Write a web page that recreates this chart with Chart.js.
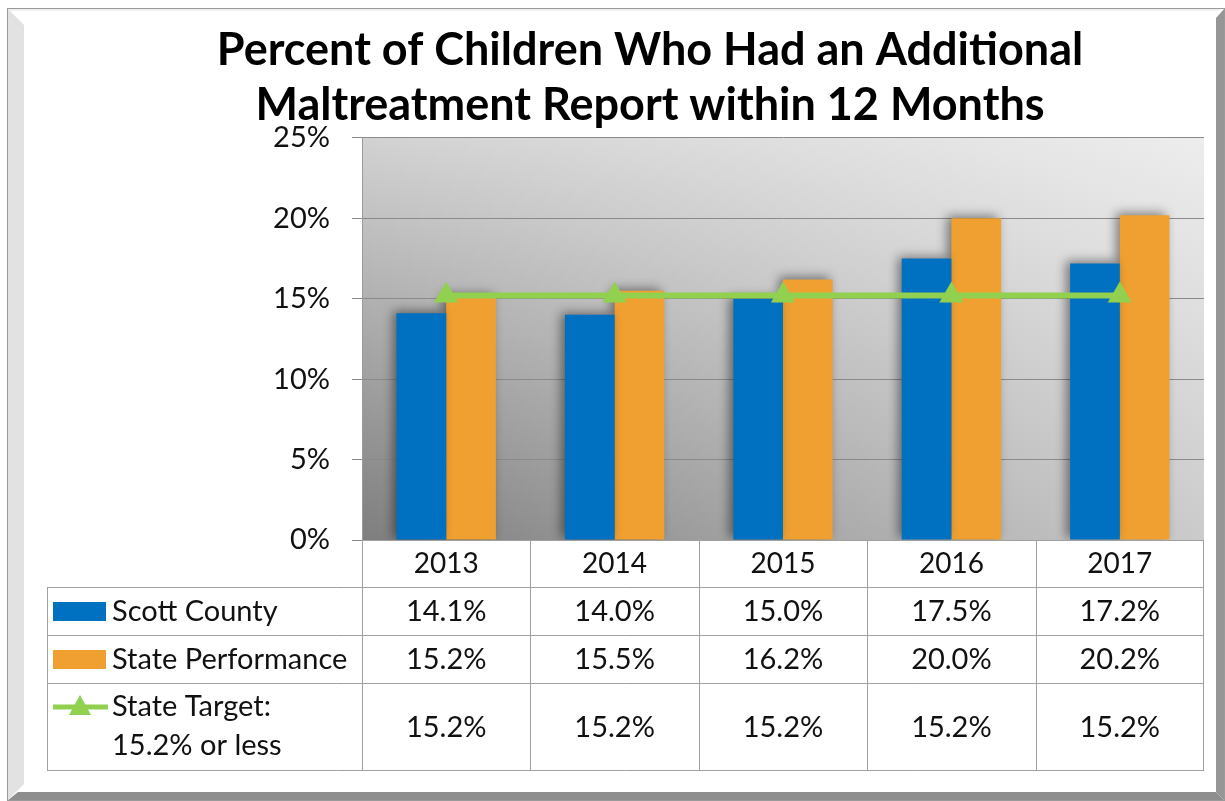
<!DOCTYPE html>
<html>
<head>
<meta charset="utf-8">
<script src="https://cdn.jsdelivr.net/npm/chart.js@4.4.1/dist/chart.umd.min.js"></script>
<style>
  body { margin: 0; background: #fff; }
  #wrap { width: 1225px; height: 801px; position: relative; }
</style>
</head>
<body>
<div id="wrap"><canvas id="myChart"></canvas></div>
<script>
// chart data
var years = ["2013", "2014", "2015", "2016", "2017"];
var scottCounty = [14.1, 14.0, 15.0, 17.5, 17.2];
var statePerformance = [15.2, 15.5, 16.2, 20.0, 20.2];
var stateTarget = [15.2, 15.2, 15.2, 15.2, 15.2];
var yTicks = [0, 5, 10, 15, 20, 25];

var BLUE = "#0070c0";
var ORANGE = "#f0a030";
var GREEN = "#92d050";
var TEXT = "#111111";
var FONT = "Lato, 'Open Sans', sans-serif";

// frame + plot background
var framePlugin = {
  id: 'frame',
  beforeDraw: function (chart) {
    var ctx = chart.ctx;
    ctx.save();
    ctx.fillStyle = "#ffffff";
    ctx.fillRect(0, 0, chart.width, chart.height);

    // left bevel (light)
    ctx.fillStyle = "#e2e2e2";
    ctx.beginPath();
    ctx.moveTo(7, 8); ctx.lineTo(24, 25); ctx.lineTo(24, 784); ctx.lineTo(7, 801);
    ctx.closePath(); ctx.fill();
    // top bevel
    ctx.fillStyle = "#f0f0f0";
    ctx.beginPath();
    ctx.moveTo(7, 8); ctx.lineTo(1225, 8); ctx.lineTo(1216, 11); ctx.lineTo(10, 11);
    ctx.closePath(); ctx.fill();
    // right bevel (dark)
    ctx.fillStyle = "#969696";
    ctx.beginPath();
    ctx.moveTo(1225, 8); ctx.lineTo(1225, 801); ctx.lineTo(1216, 792); ctx.lineTo(1216, 18);
    ctx.closePath(); ctx.fill();
    // bottom bevel (dark)
    ctx.fillStyle = "#8e8e8e";
    ctx.beginPath();
    ctx.moveTo(7, 801); ctx.lineTo(1225, 801); ctx.lineTo(1216, 792); ctx.lineTo(18, 792);
    ctx.closePath(); ctx.fill();
    // outline
    ctx.strokeStyle = "#9a9a9a";
    ctx.lineWidth = 1;
    ctx.strokeRect(7.5, 8.5, 1217, 792);

    // plot area: vertical gray gradient with a white wash toward the right
    var a = chart.chartArea;
    var w = a.right - a.left, h = a.bottom - a.top;
    var gv = ctx.createLinearGradient(0, a.bottom, 0, a.top);
    gv.addColorStop(0, "#7e7e7e");
    gv.addColorStop(1, "#d2d2d2");
    ctx.fillStyle = gv;
    ctx.fillRect(a.left, a.top, w, h);
    var gh = ctx.createLinearGradient(a.left, 0, a.right, 0);
    gh.addColorStop(0, "rgba(255,255,255,0)");
    gh.addColorStop(1, "rgba(255,255,255,0.6)");
    ctx.fillStyle = gh;
    ctx.fillRect(a.left, a.top, w, h);
    ctx.restore();
  },
  beforeDatasetDraw: function (chart, args) {
    if (args.meta.type !== 'bar') return;
    var ctx = chart.ctx;
    ctx.save();
    ctx.shadowColor = "rgba(0,0,0,0.45)";
    ctx.shadowBlur = 10;
    ctx.shadowOffsetX = -4;
    ctx.shadowOffsetY = -2;
  },
  afterDatasetDraw: function (chart, args) {
    if (args.meta.type !== 'bar') return;
    chart.ctx.restore();
  }
};

// data table under the plot
var tablePlugin = {
  id: 'dataTable',
  afterDraw: function (chart) {
    var ctx = chart.ctx;
    var x = chart.scales.x;
    var a = chart.chartArea;
    var half = (x.getPixelForValue(1) - x.getPixelForValue(0)) / 2;
    var tableLeft = 47;
    var rowTop = [a.bottom, a.bottom + 47, a.bottom + 95, a.bottom + 143, a.bottom + 230];
    var rows = [
      { label: ["Scott County"], data: scottCounty, key: 'box', color: BLUE },
      { label: ["State Performance"], data: statePerformance, key: 'box', color: ORANGE },
      { label: ["State Target:", "15.2% or less"], data: stateTarget, key: 'line', color: GREEN }
    ];

    ctx.save();
    ctx.strokeStyle = "#a0a0a0";
    ctx.lineWidth = 1;
    ctx.beginPath();
    // horizontal lines
    ctx.moveTo(a.left, rowTop[0] + 0.5); ctx.lineTo(a.right, rowTop[0] + 0.5);
    for (var r = 1; r < rowTop.length; r++) {
      ctx.moveTo(tableLeft, rowTop[r] + 0.5); ctx.lineTo(a.right, rowTop[r] + 0.5);
    }
    // vertical lines
    ctx.moveTo(tableLeft + 0.5, rowTop[1]); ctx.lineTo(tableLeft + 0.5, rowTop[4]);
    for (var i = 0; i < years.length; i++) {
      var xl = Math.round(x.getPixelForValue(i) - half) + 0.5;
      ctx.moveTo(xl, rowTop[0]); ctx.lineTo(xl, rowTop[4]);
    }
    ctx.moveTo(Math.round(a.right) - 0.5, rowTop[0]); ctx.lineTo(Math.round(a.right) - 0.5, rowTop[4]);
    ctx.stroke();

    ctx.fillStyle = TEXT;
    ctx.font = "29px " + FONT;
    ctx.textBaseline = "middle";
    rows.forEach(function (row, ri) {
      var top = rowTop[ri + 1], bot = rowTop[ri + 2];
      var mid = (top + bot) / 2;
      // legend key
      if (row.key === 'box') {
        ctx.fillStyle = row.color;
        ctx.fillRect(53, mid - 9, 53, 19);
      } else {
        var ky = top + 24;
        ctx.strokeStyle = row.color;
        ctx.lineWidth = 5;
        ctx.beginPath(); ctx.moveTo(53, ky); ctx.lineTo(108, ky); ctx.stroke();
        ctx.fillStyle = row.color;
        ctx.beginPath();
        ctx.moveTo(80, ky - 12); ctx.lineTo(91, ky + 8); ctx.lineTo(69, ky + 8);
        ctx.closePath(); ctx.fill();
      }
      // label
      ctx.fillStyle = TEXT;
      ctx.textAlign = "left";
      if (row.label.length === 1) {
        ctx.fillText(row.label[0], 112, mid + 1);
      } else {
        ctx.fillText(row.label[0], 112, top + 24);
        ctx.fillText(row.label[1], 112, top + 63);
      }
      // values
      ctx.textAlign = "center";
      row.data.forEach(function (v, i) {
        ctx.fillText(v.toFixed(1) + "%", x.getPixelForValue(i), mid + 1);
      });
    });
    ctx.restore();
  }
};

var ctx = document.getElementById("myChart").getContext("2d");
var myChart = new Chart(ctx, {
  data: {
    labels: years,
    datasets: [
      {
        type: 'line',
        label: "State Target: 15.2% or less",
        data: stateTarget,
        borderColor: GREEN,
        backgroundColor: GREEN,
        borderWidth: 6,
        pointStyle: 'triangle',
        pointRadius: 14,
        pointBorderWidth: 0,
        pointBackgroundColor: GREEN,
        order: 0
      },
      {
        type: 'bar',
        label: "Scott County",
        data: scottCounty,
        backgroundColor: BLUE,
        categoryPercentage: 0.59,
        barPercentage: 1.0,
        order: 1
      },
      {
        type: 'bar',
        label: "State Performance",
        data: statePerformance,
        backgroundColor: ORANGE,
        categoryPercentage: 0.59,
        barPercentage: 1.0,
        order: 1
      }
    ]
  },
  options: {
    responsive: true,
    maintainAspectRatio: false,
    animation: false,
    layout: { padding: { left: 96, right: 21, top: 0, bottom: 214 } },
    plugins: {
      legend: { display: false },
      tooltip: { enabled: false },
      title: {
        display: true,
        text: ["Percent of Children Who Had an Additional", "Maltreatment Report within 12 Months"],
        color: "#000000",
        font: { family: FONT, size: 45, weight: 'bold', lineHeight: 1.244 },
        padding: { top: 22, bottom: 4 }
      }
    },
    scales: {
      x: {
        offset: true,
        grid: { display: false, drawTicks: false },
        border: { display: false },
        ticks: { color: TEXT, font: { family: FONT, size: 28 }, padding: 7 },
        afterFit: function (scale) { scale.height = 47; }
      },
      y: {
        min: 0,
        max: 25,
        afterBuildTicks: function (scale) {
          scale.ticks = yTicks.map(function (v) { return { value: v }; });
        },
        grid: { color: "#8a8a8a", lineWidth: 1, tickLength: 10 },
        border: { display: true, color: "#9a9a9a", width: 1 },
        ticks: {
          color: TEXT,
          font: { family: FONT, size: 29 },
          padding: 22,
          callback: function (v) { return v + "%"; }
        },
        afterFit: function (scale) { scale.width = 266; }
      }
    }
  },
  plugins: [framePlugin, tablePlugin]
});
</script>
</body>
</html>
